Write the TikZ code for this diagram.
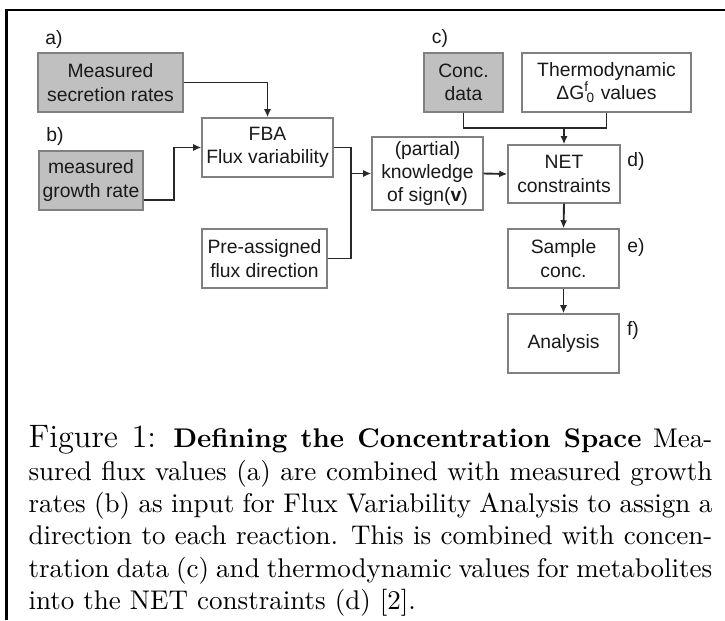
\documentclass[tikz,border=0pt]{standalone}
\usepackage{fontspec}
\newfontfamily\diagfont{Liberation Sans}
\usetikzlibrary{arrows.meta}
\definecolor{boxgray}{RGB}{128,128,128}
\definecolor{fillgray}{RGB}{192,192,192}
\definecolor{linecol}{RGB}{40,40,40}
\newcommand\pxu{0.37pt}
\begin{document}
\begin{tikzpicture}[x=0.37pt,y=-0.37pt,
  box/.style={draw=boxgray,line width=0.5pt,fill=white,align=center,inner sep=0pt,
    minimum height=59*\pxu,font=\diagfont\fontsize{7.15}{8.6}\selectfont,text=black!90},
  graybox/.style={box,fill=fillgray},
  lbl/.style={font=\diagfont\fontsize{7.15}{8.6}\selectfont,inner sep=0pt,text=black!90},
  conn/.style={draw=linecol,line width=0.7pt},
  arr/.style={conn,-{Latex[length=3pt,width=2.6pt]}}]
\useasboundingbox (0,0) rectangle (725,620);
% frame
\draw[line width=1.1pt] (6.5,620) -- (6.5,10) -- (725,10);
% boxes
\node[graybox,minimum width=145*\pxu] (msr) at (110.5,82.5) {Measured\\secretion rates};
\node[graybox,minimum width=104*\pxu] (mgr) at (91,180.5) {measured\\growth rate};
\node[box,minimum width=131*\pxu] (fba) at (267.5,147.5) {FBA\\Flux variability};
\node[box,minimum width=125*\pxu] (pre) at (264.5,258.5) {Pre-assigned\\flux direction};
\node[box,minimum width=111*\pxu,minimum height=73*\pxu] (part) at (427.5,173.5) {(partial)\\knowledge\\of sign(\textbf{v})};
\node[graybox,minimum width=79*\pxu] (conc) at (463.5,82.5) {Conc.\\data};
\node[box,minimum width=169*\pxu] (thermo) at (606.5,82.5) {Thermodynamic\\ΔG\textsuperscript{f}\kern-0.15em\textsubscript{0} values};
\node[box,minimum width=112*\pxu,minimum height=58*\pxu] (net) at (564,174) {NET\\constraints};
\node[box,minimum width=111*\pxu] (samp) at (563.5,258.5) {Sample\\conc.};
\node[box,minimum width=111*\pxu] (ana) at (563.5,343.5) {Analysis};
% labels
\node[lbl] (la) at (54,39) {a)};
\node[lbl] (lb) at (55,136) {b)};
\node[lbl] (lc) at (440,38) {c)};
\node[lbl] (ld) at (636,161) {d)};
\node[lbl] (le) at (636,247) {e)};
\node[lbl] (lf) at (633,330) {f)};
% connectors
\draw[arr] (msr.east) -| (fba.north);
\draw[arr] (mgr.east) ++(0,19.5) -- ++(30,0) |- (fba.west);
\coordinate (jf) at (351,173.5);
\draw[conn] (fba.east) -| (jf);
\draw[conn] (pre.east) -| (jf);
\draw[arr] (jf) -- (part.west);
\draw[arr] (part.east) -- (net.west);
\coordinate (jc) at (564,128);
\draw[conn] (conc.south) |- (jc);
\draw[conn] (thermo.south) |- (jc);
\draw[arr] (jc) -- (net.north);
\draw[arr] (net.south) -- (samp.north);
\draw[arr] (samp.south) -- (ana.north);
% caption
\node[anchor=north west,inner sep=0pt,text width=253pt,align=justify,
  font=\fontsize{10}{12}\selectfont] (cap) at (28,425)
{{\large Figure 1:} \textbf{Defining the Concentration Space} Mea-\linebreak
sured flux values (a) are combined with measured growth\linebreak
rates (b) as input for Flux Variability Analysis to assign a\linebreak
direction to each reaction. This is combined with concen-\linebreak
tration data (c) and thermodynamic values for metabolites\linebreak
into the NET constraints (d) [2].};
\end{tikzpicture}
\end{document}
